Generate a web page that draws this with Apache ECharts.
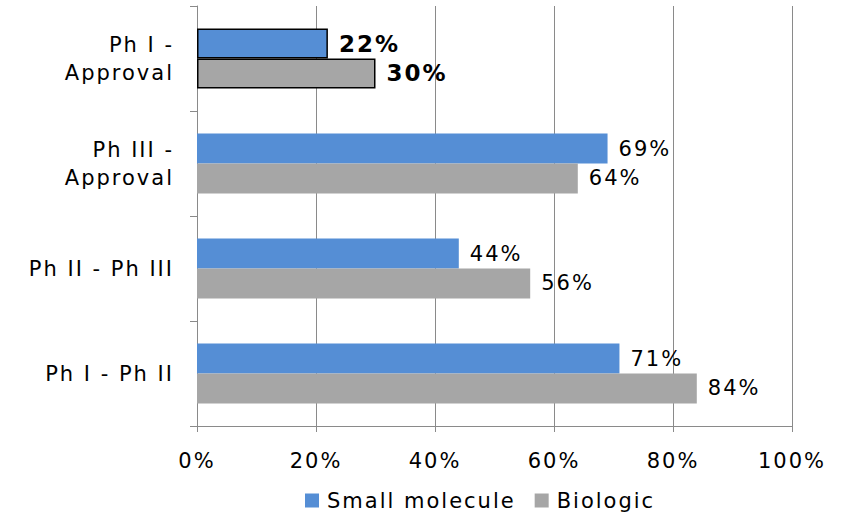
<!DOCTYPE html>
<html><head><meta charset="utf-8">
<script src="https://cdn.jsdelivr.net/npm/echarts@6/dist/echarts.min.js"></script>
<style>
html,body{margin:0;padding:0;background:#fff}
#c{width:850px;height:513px}
#c svg text{letter-spacing:2px}
</style>
</head><body><div id="c"></div>
<script>
const categories = ['Ph I - Ph II', 'Ph II - Ph III', 'Ph III -\nApproval', 'Ph I -\nApproval'];
const smallMolecule = [71, 44, 69, 22];
const biologic = [84, 56, 64, 30];
const xTicks = [0, 20, 40, 60, 80, 100];
const highlightIndex = 3;

const FONT = 'DejaVu Sans';
function build(vals, color) {
  return vals.map((v, i) => i === highlightIndex ? {
    value: v,
    itemStyle: { color: color, borderColor: '#000', borderWidth: 1.5 },
    label: { fontWeight: 'bold', fontSize: 23 }
  } : v);
}
const chart = echarts.init(document.getElementById('c'), null, { renderer: 'svg' });
const labelStyle = { show: true, position: 'right', distance: 11, formatter: '{c}%', fontSize: 21, color: '#000', fontFamily: FONT };
chart.setOption({
  animation: false,
  textStyle: { fontFamily: FONT },
  grid: { left: 197, right: 58, top: 6, bottom: 87, containLabel: false },
  legend: {
    data: ['Small molecule', 'Biologic'],
    left: 300, top: 485,
    icon: 'rect', itemWidth: 14, itemHeight: 14, itemGap: 47,
    textStyle: { fontSize: 21, color: '#000', fontFamily: FONT, padding: [0, 0, 0, 3] }
  },
  xAxis: {
    type: 'value', min: xTicks[0], max: xTicks[xTicks.length - 1], interval: 20,
    axisLine: { show: true, lineStyle: { color: '#8a8a8a' } },
    axisTick: { show: true, length: 6, lineStyle: { color: '#8a8a8a' } },
    splitLine: { show: true, lineStyle: { color: '#8a8a8a', width: 1 } },
    axisLabel: { formatter: '{value}%', fontSize: 21, color: '#000', margin: 24, fontFamily: FONT }
  },
  yAxis: {
    type: 'category', data: categories,
    axisLine: { show: true, lineStyle: { color: '#8a8a8a' } },
    axisTick: { show: true, length: 7, lineStyle: { color: '#8a8a8a' } },
    axisLabel: { fontSize: 21, color: '#000', margin: 23, lineHeight: 28, align: 'right', fontFamily: FONT }
  },
  series: [
    {
      name: 'Small molecule', type: 'bar', data: build(smallMolecule, '#558ED5'),
      itemStyle: { color: '#558ED5' }, barGap: '0%', barCategoryGap: '43%',
      label: labelStyle
    },
    {
      name: 'Biologic', type: 'bar', data: build(biologic, '#A6A6A6'),
      itemStyle: { color: '#A6A6A6' }, barGap: '0%', barCategoryGap: '43%',
      label: labelStyle
    }
  ]
});
</script></body></html>
